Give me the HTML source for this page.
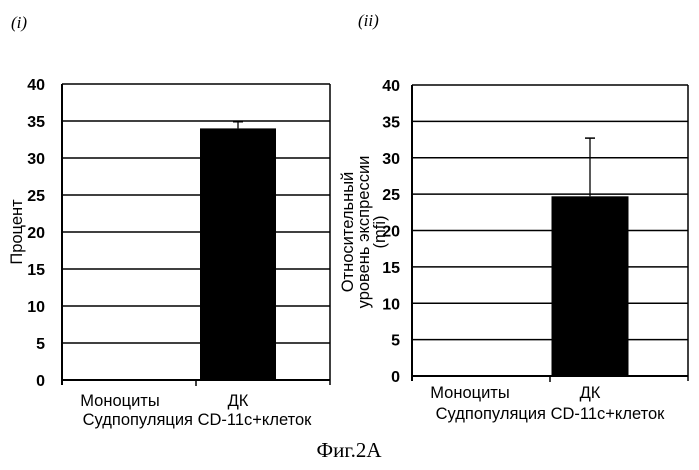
<!DOCTYPE html>
<html><head><meta charset="utf-8"><style>
body{margin:0;background:#fff;width:699px;height:465px;overflow:hidden}
svg text{font-family:"Liberation Sans",sans-serif;fill:#000}
</style></head><body>
<svg width="699" height="465" viewBox="0 0 699 465" id="fig">
<text x="11" y="28" font-family="Liberation Serif" font-style="italic" font-size="17" style="font-family:'Liberation Serif',serif">(i)</text>
<text x="358" y="26" font-family="Liberation Serif" font-style="italic" font-size="17" style="font-family:'Liberation Serif',serif">(ii)</text>
<text x="349" y="457" text-anchor="middle" font-size="21" style="font-family:'Liberation Serif',serif">Фиг.2А</text>
</svg>
<script>
const categories=["Моноциты","ДК"];
const valuesI=[0,34];
const errorsI=[0,0.9];
const valuesII=[0,24.7];
const errorsII=[0,8];
const ticks=[0,5,10,15,20,25,30,35,40];
const NS="http://www.w3.org/2000/svg";
const svg=document.getElementById('fig');
function mk(tag,attrs,parent){const e=document.createElementNS(NS,tag);for(const k in attrs)e.setAttribute(k,attrs[k]);(parent||svg).appendChild(e);return e;}
function chart(id,x0,x1,yTop,yBot,vals,errs,catY,subY,barL,barW,monoOff,tickGap,subX){
  const g=mk('g',{});
  
  
  const y=v=>yBot-(v/40)*(yBot-yTop);
  const bx=i=>x0+(x1-x0)*(i+0.5)/categories.length;
  ticks.forEach(t=>{
    const l=mk('line',{x1:x0,x2:x1,y1:y(t),y2:y(t),stroke:'#000','stroke-width':t===0?2:1.6},g);
    
    
    const tx=mk('text',{x:x0-tickGap,y:y(t)+6,'text-anchor':'end','font-size':16,'font-weight':'bold'},g);
    tx.textContent=t;
    
    
  });
  mk('line',{x1:x0,x2:x0,y1:yTop,y2:yBot+5,stroke:'#000','stroke-width':2},g);
  mk('line',{x1:x1,x2:x1,y1:yTop,y2:yBot+5,stroke:'#000','stroke-width':1.5},g);
  mk('line',{x1:(x0+x1)/2,x2:(x0+x1)/2,y1:yBot,y2:yBot+6,stroke:'#000','stroke-width':1.5},g);
  vals.forEach((v,i)=>{
    const cx=bx(i)+barL;
    const r=mk('rect',{x:cx-barW/2,y:y(v),width:barW,height:yBot-y(v),fill:'#000'},g);
    
    
    if(errs[i]>0){
      const e=mk('line',{x1:cx,x2:cx,y1:y(v),y2:y(v+errs[i]),stroke:'#000','stroke-width':1.3},g);
      
      
      mk('line',{x1:cx-5,x2:cx+5,y1:y(v+errs[i]),y2:y(v+errs[i]),stroke:'#000','stroke-width':1.5},g);
    }
    const t=mk('text',{x:i===0?bx(i)+monoOff:cx,y:catY,'text-anchor':'middle','font-size':16.5},g);
    t.textContent=categories[i];
    
    
  });
  const s=mk('text',{x:subX,y:subY,'text-anchor':'middle','font-size':16.5},g);
  s.textContent='Судпопуляция CD-11c+клеток';
  
  
  return g;
}
const gI=chart('chart-i',62,330,84,380,valuesI,errorsI,406,425,-25,76,-9,17,197);
const gII=chart('chart-ii',412,688,85,376,valuesII,errorsII,398,419,-29,77,-11,12,550);
const yl=mk('text',{x:0,y:0,'text-anchor':'middle','font-size':16.5,transform:'translate(22,232) rotate(-90)'},gI);
yl.textContent='Процент';


const lines=['Относительный','уровень экспрессии','(mfi)'];
lines.forEach((s,i)=>{
  const t=mk('text',{x:0,y:0,'text-anchor':'middle','font-size':16.5,transform:'translate('+(353+i*16)+',232) rotate(-90)'},gII);
  t.textContent=s;
  
  
});
</script>
</body></html>
